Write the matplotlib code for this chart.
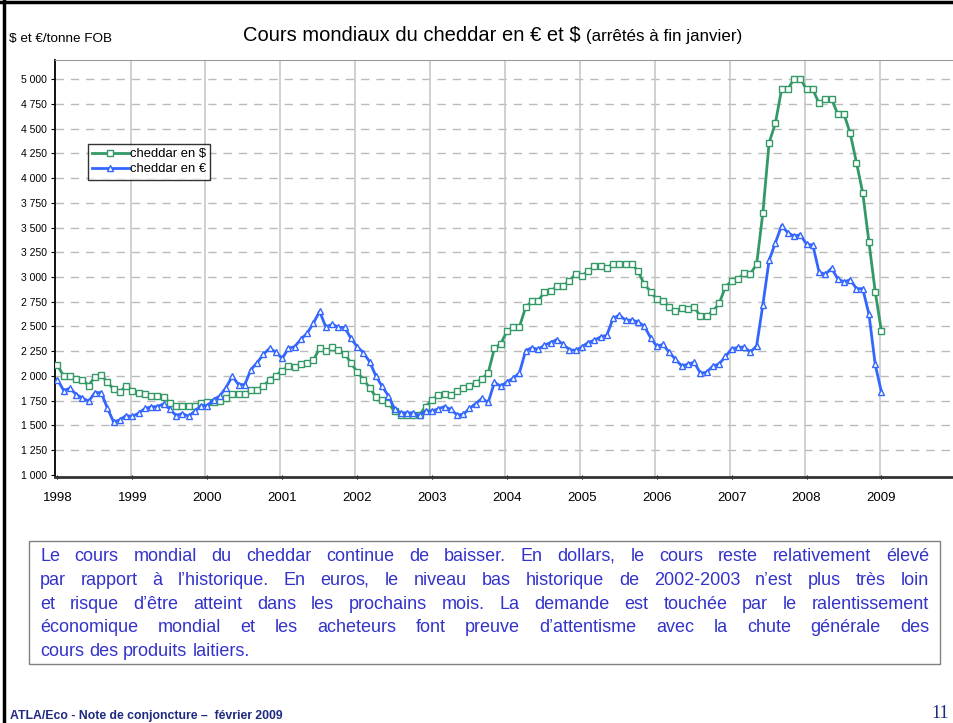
import matplotlib
matplotlib.use("Agg")
import matplotlib.pyplot as plt
import numpy as np
from matplotlib.lines import Line2D
from matplotlib.font_manager import FontProperties

plt.rcParams['font.family'] = ['Liberation Sans', 'DejaVu Sans']

W, H = 954, 723

years = ['1998', '1999', '2000', '2001', '2002', '2003', '2004', '2005', '2006', '2007', '2008', '2009']

# monthly prices, Jan 1998 .. Jan 2009
cheddar_usd = [
    2105, 1997, 2003, 1970, 1960, 1902, 1993, 2007, 1936, 1865, 1838, 1899,
    1851, 1831, 1814, 1800, 1797, 1784, 1730, 1699, 1699, 1699, 1699, 1730,
    1733, 1733, 1743, 1780, 1814, 1814, 1814, 1861, 1858, 1902, 1956, 2003,
    2054, 2095, 2088, 2118, 2132, 2159, 2281, 2250, 2287, 2264, 2226, 2132,
    2041, 1963, 1882, 1787, 1760, 1723, 1643, 1609, 1606, 1606, 1606, 1690,
    1760, 1802, 1820, 1802, 1845, 1880, 1900, 1930, 1970, 2030, 2280, 2325,
    2450, 2495, 2495, 2695, 2755, 2755, 2850, 2857, 2904, 2908, 2962, 3030,
    3013, 3057, 3108, 3108, 3088, 3136, 3136, 3136, 3136, 3057, 2928, 2853,
    2775, 2755, 2700, 2652, 2685, 2680, 2695, 2603, 2603, 2655, 2732, 2900,
    2960, 2978, 3037, 3034, 3128, 3648, 4358, 4554, 4898, 4898, 5006, 5006,
    4898, 4898, 4756, 4800, 4800, 4648, 4648, 4452, 4155, 3851, 3355, 2851,
    2449,
]
cheddar_eur = [
    1963, 1851, 1875, 1811, 1777, 1743, 1831, 1831, 1673, 1532, 1556, 1599,
    1589, 1623, 1670, 1686, 1690, 1716, 1663, 1599, 1619, 1592, 1643, 1700,
    1700, 1760, 1797, 1882, 1997, 1912, 1912, 2064, 2135, 2220, 2279, 2238,
    2177, 2279, 2296, 2371, 2432, 2534, 2653, 2490, 2524, 2490, 2490, 2381,
    2296, 2235, 2143, 2000, 1894, 1800, 1666, 1626, 1626, 1626, 1600, 1645,
    1645, 1666, 1690, 1660, 1606, 1610, 1670, 1720, 1772, 1731, 1935, 1895,
    1938, 1976, 2030, 2255, 2285, 2268, 2310, 2337, 2367, 2320, 2265, 2258,
    2292, 2337, 2360, 2394, 2411, 2581, 2615, 2564, 2564, 2547, 2503, 2388,
    2300, 2318, 2238, 2168, 2100, 2118, 2138, 2027, 2037, 2100, 2120, 2196,
    2272, 2288, 2292, 2240, 2304, 2719, 3169, 3344, 3520, 3449, 3412, 3429,
    3331, 3324, 3051, 3027, 3088, 2983, 2949, 2973, 2882, 2882, 2622, 2115,
    1834,
]
series_labels = ['cheddar en $', 'cheddar en €']
y_ticks = list(range(1000, 5001, 250))

GREEN = '#339966'
BLUE = '#3366FF'
TXT_BLUE = '#3333CC'
NAVY = '#1F2A80'

fig = plt.figure(figsize=(W / 100, H / 100), dpi=100)


def fx(x):
    return x / W


def fy(y):
    return 1 - y / H


# page frame (top and left edges visible)
fig.add_artist(Line2D([fx(4), fx(4)], [fy(0), fy(723)], color='black', lw=2.5))
fig.add_artist(Line2D([fx(0), fx(954)], [fy(2), fy(2)], color='black', lw=2.5))

# chart axes
ax_l, ax_r, ax_t, ax_b = 55, 952, 60, 477
ax = fig.add_axes([fx(ax_l), fy(ax_b), (ax_r - ax_l) / W, (ax_b - ax_t) / H])
months = np.arange(len(cheddar_usd))
ax.set_xlim(-0.4, 143.3)
ax.set_ylim(977, 5195)

ax.plot(months, cheddar_usd, color=GREEN, lw=2.0, marker='s', markersize=4.2,
        markerfacecolor='white', markeredgecolor=GREEN, markeredgewidth=1.0,
        label=series_labels[0], zorder=3)
ax.plot(months, cheddar_eur, color=BLUE, lw=2.0, marker='^', markersize=4.6,
        markerfacecolor='white', markeredgecolor=BLUE, markeredgewidth=1.0,
        label=series_labels[1], zorder=4)

# grid
for yv in y_ticks[1:]:
    ax.axhline(yv, color='#BBBBBB', lw=1.0, ls=(0, (6, 5)), zorder=1)
for k in range(1, len(years)):
    ax.axvline(12 * k - 0.3, color='#C8C8C8', lw=1.2, zorder=1)

ax.set_yticks(y_ticks)
ax.set_yticklabels([f"{v:,}".replace(',', ' ') for v in y_ticks], fontsize=7.5)
ax.tick_params(axis='y', length=3, width=0.8, pad=3, direction='out')
ax.set_xticks([12 * k for k in range(len(years))])
ax.set_xticklabels(years, fontsize=9.5)
ax.tick_params(axis='x', length=3, width=0.8, pad=9, direction='inout')

ax.spines['left'].set_color('black')
ax.spines['left'].set_linewidth(1.3)
ax.spines['bottom'].set_color('#333333')
ax.spines['bottom'].set_linewidth(2.0)
ax.spines['top'].set_color('#999999')
ax.spines['top'].set_linewidth(0.8)
ax.spines['right'].set_visible(False)

leg = ax.legend(loc='upper left', bbox_to_anchor=((88 - ax_l) / (ax_r - ax_l), 1 - (144 - ax_t) / (ax_b - ax_t)),
                fontsize=9.4, frameon=True, fancybox=False, edgecolor='black',
                handlelength=2.8, handletextpad=0.1, borderpad=0.32, labelspacing=0.22,
                borderaxespad=0)
leg.get_frame().set_linewidth(1.0)

# titles
renderer = fig.canvas.get_renderer()
fig.text(fx(9), fy(42), '$ et €/tonne FOB', fontsize=9.7, ha='left', va='baseline')
t1 = fig.text(fx(243), fy(41), 'Cours mondiaux du cheddar en € et $', fontsize=14.5,
              ha='left', va='baseline')
bb = t1.get_window_extent(renderer)
fig.text((bb.x1 + 5) / W, fy(41), '(arrêtés à fin janvier)', fontsize=12.2,
         ha='left', va='baseline')

# commentary box
box_l, box_r, box_t, box_b = 29, 940, 541, 664
fig.add_artist(plt.Rectangle((fx(box_l), fy(box_b)), (box_r - box_l) / W, (box_b - box_t) / H,
                             fill=False, edgecolor='#808080', lw=1.0))
lines = [
    "Le cours mondial du cheddar continue de baisser. En dollars, le cours reste relativement élevé",
    "par rapport à l’historique. En euros, le niveau bas historique de 2002-2003 n’est plus très loin",
    "et risque d’être atteint dans les prochains mois. La demande est touchée par le ralentissement",
    "économique mondial et les acheteurs font preuve d’attentisme avec la chute générale des",
    "cours des produits laitiers.",
]
tx_l, tx_r = 40, 929
base_y = [561, 585, 609, 632, 656]
fs = 13
fprop = FontProperties(family='Liberation Sans', size=fs)


def text_w(s):
    return renderer.get_text_width_height_descent(s, fprop, ismath=False)[0]


def put(s, x, y):
    fig.text(fx(x), fy(y), s, fontsize=fs, color=TXT_BLUE, ha='left', va='baseline')


space_w = text_w('a a') - text_w('aa')
for i, line in enumerate(lines):
    words = line.split(' ')
    widths = [text_w(w) for w in words]
    if i == len(lines) - 1:
        gap = space_w
    else:
        gap = (tx_r - tx_l - sum(widths)) / (len(words) - 1)
    x = tx_l
    for w, wd in zip(words, widths):
        if w.endswith(','):
            core = w[:-1]
            put(core, x, base_y[i])
            put(',', x + text_w(core) - 1.5, base_y[i])
        else:
            put(w, x, base_y[i])
        x += wd + gap

# footer
fig.text(fx(10), fy(719), 'ATLA/Eco - Note de conjoncture –  février 2009', fontsize=8.8,
         fontweight='bold', color=NAVY, ha='left', va='baseline')
fig.text(fx(949), fy(718), '11', fontsize=13, family='Liberation Serif', color=NAVY,
         ha='right', va='baseline')

fig.savefig('out.png', dpi=100)
